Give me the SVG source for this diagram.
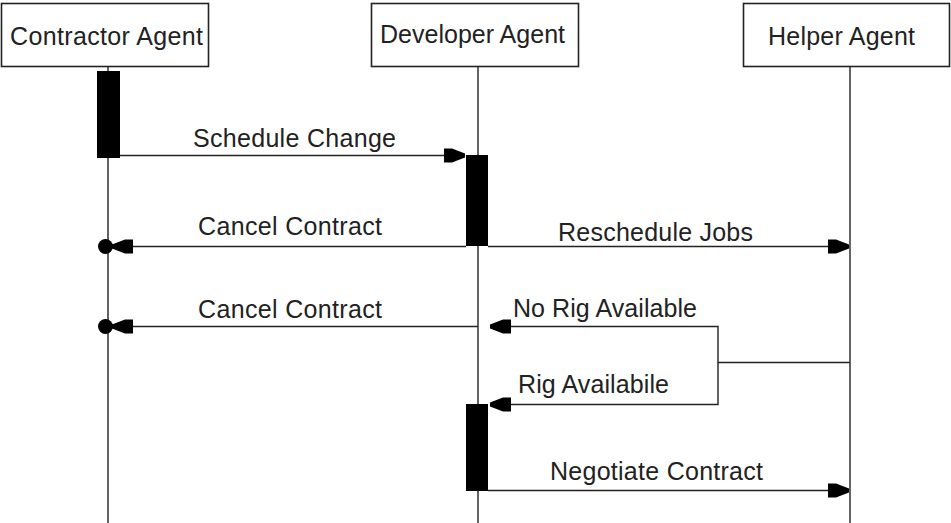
<svg xmlns="http://www.w3.org/2000/svg" xmlns:xlink="http://www.w3.org/1999/xlink" width="951" height="523" viewBox="0 0 951 523">
<style>
.box{fill:#fff;stroke:#222;stroke-width:1.6}
.life{stroke:#222;stroke-width:1.4;fill:none}
.act{fill:#000}
.msg{stroke:#222;stroke-width:1.4;fill:none}
.head{fill:#000}
text{font-family:"Liberation Sans",Arial,sans-serif;font-size:25px;fill:#222}
</style>
<defs>
<polygon id="ah" class="head" points="-21,-7 -13,-7 0,-2 0,2 -13,7 -21,7"/>
</defs>
<rect width="951" height="523" fill="#fff"/>
<g id="contractor">
<rect class="box" x="1.5" y="3.5" width="207" height="63"/>
<text x="10" y="45" textLength="193" lengthAdjust="spacing">Contractor Agent</text>
<line class="life" x1="108" y1="66" x2="108" y2="523"/>
<rect class="act" x="97" y="71" width="23" height="87"/>
</g>
<g id="developer">
<rect class="box" x="371.5" y="3.5" width="207" height="63"/>
<text x="380" y="43" textLength="185" lengthAdjust="spacing">Developer Agent</text>
<line class="life" x1="478" y1="66" x2="478" y2="523"/>
<rect class="act" x="466" y="155" width="22" height="91"/>
<rect class="act" x="466" y="404" width="22" height="87"/>
</g>
<g id="helper">
<rect class="box" x="743.5" y="3.5" width="206" height="63"/>
<text x="768" y="45" textLength="147" lengthAdjust="spacing">Helper Agent</text>
<line class="life" x1="850" y1="66" x2="850" y2="523"/>
</g>
<g id="connectors">
<line class="msg" x1="120" y1="155.5" x2="460" y2="155.5"/>
<use xlink:href="#ah" href="#ah" transform="translate(465,155.5)"/>
<text x="193" y="147" textLength="203" lengthAdjust="spacing">Schedule Change</text>

<line class="msg" x1="466" y1="246.5" x2="115" y2="246.5"/>
<circle class="head" cx="105.5" cy="246.5" r="7.5"/>
<use xlink:href="#ah" href="#ah" transform="translate(112,246.5) scale(-1,1)"/>
<text x="198" y="235" textLength="184" lengthAdjust="spacing">Cancel Contract</text>

<line class="msg" x1="488" y1="246.5" x2="845" y2="246.5"/>
<use xlink:href="#ah" href="#ah" transform="translate(849,246.5)"/>
<text x="558" y="241" textLength="195" lengthAdjust="spacing">Reschedule Jobs</text>

<line class="msg" x1="478" y1="326.5" x2="115" y2="326.5"/>
<circle class="head" cx="105.5" cy="326.5" r="7.5"/>
<use xlink:href="#ah" href="#ah" transform="translate(112,326.5) scale(-1,1)"/>
<text x="198" y="318" textLength="184" lengthAdjust="spacing">Cancel Contract</text>

<polyline class="msg" points="850,362.5 718,362.5 718,326.5 495,326.5"/>
<use xlink:href="#ah" href="#ah" transform="translate(490,326.5) scale(-1,1)"/>
<text x="513" y="317" textLength="184" lengthAdjust="spacing">No Rig Available</text>

<polyline class="msg" points="718,362.5 718,404.5 495,404.5"/>
<use xlink:href="#ah" href="#ah" transform="translate(490,404.5) scale(-1,1)"/>
<text x="518" y="393" textLength="151" lengthAdjust="spacing">Rig Availabile</text>

<line class="msg" x1="488" y1="490.5" x2="845" y2="490.5"/>
<use xlink:href="#ah" href="#ah" transform="translate(849,490.5)"/>
<text x="550" y="480" textLength="213" lengthAdjust="spacing">Negotiate Contract</text>
</g>
</svg>
